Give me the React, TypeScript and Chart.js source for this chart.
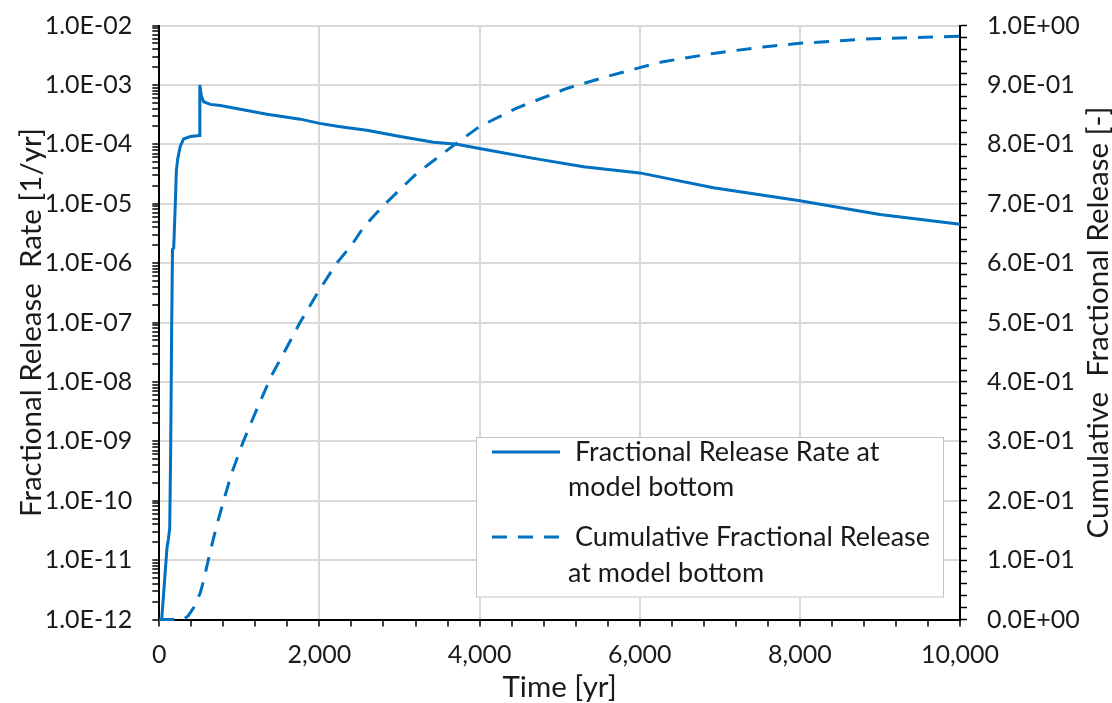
import React, { useEffect, useRef } from 'react';
import { Chart, registerables } from 'chart.js';

Chart.register(...registerables);

// ---------- data ----------
const rateYears = [0, 30, 96, 112, 130, 142, 155, 165, 180, 200, 213, 229, 262, 304, 387, 504, 506, 512, 525, 554, 637, 762, 1012, 1346, 1762, 2000, 2262, 2592, 3009, 3425, 3717, 4000, 4675, 5300, 6000, 6920, 8000, 9000, 10000];
const rateValues = [1e-12, 1e-12, 1.6e-11, 2.2e-11, 3.4e-11, 7e-10, 1e-7, 1.7e-6, 1.8e-6, 1e-5, 3.6e-5, 5.6e-5, 9.3e-5, 1.23e-4, 1.35e-4, 1.41e-4, 1.0e-3, 8.5e-4, 6.5e-4, 5.2e-4, 4.7e-4, 4.5e-4, 3.9e-4, 3.2e-4, 2.65e-4, 2.25e-4, 1.98e-4, 1.72e-4, 1.35e-4, 1.08e-4, 1.0e-4, 8.5e-5, 5.8e-5, 4.2e-5, 3.3e-5, 1.86e-5, 1.12e-5, 6.6e-6, 4.5e-6];

const cumYears = [0, 300, 360, 430, 512, 554, 637, 720, 804, 900, 1050, 1221, 1400, 1600, 1757, 2000, 2216, 2400, 2549, 2800, 3215, 3714, 4000, 4464, 5089, 5589, 6000, 6290, 6920, 7540, 8000, 8790, 10000];
const cumValues = [0, 0, 0.006, 0.02, 0.045, 0.066, 0.115, 0.16, 0.2, 0.245, 0.3, 0.355, 0.41, 0.46, 0.5, 0.555, 0.6, 0.63, 0.66, 0.697, 0.751, 0.802, 0.83, 0.861, 0.894, 0.914, 0.929, 0.939, 0.953, 0.964, 0.97, 0.977, 0.982];

const xMin = 0;
const xMax = 10000;
const xMinorStep = 400;
const xMajorStep = 2000;
const logMinExp = -12;
const logMaxExp = -2;
const rightMinorStep = 0.02;
const rightMajorStep = 0.1;

const seriesLabels = [
  [' Fractional Release Rate at', 'model bottom'],
  [' Cumulative Fractional Release', 'at model bottom'],
];
const xTitle = 'Time [yr]';
const leftTitle = 'Fractional Release  Rate [1/yr]';
const rightTitle = 'Cumulative  Fractional Release [-]';

// ---------- style ----------
const W = 1112;
const H = 703;
const BLUE = '#0070C0';
const GRID = '#d9d9d9';
const TEXT = '#1a1a1a';
const FONT = 'Lato';
const TICK_SIZE = 25;
const TITLE_SIZE = 29.5;
const LEGEND_SIZE = 27;

function fmtExp(v: number): string {
  const s = v.toExponential(1);
  const [m, e] = s.split('e');
  const n = parseInt(e, 10);
  const sign = n < 0 ? '-' : '+';
  return `${m}E${sign}${String(Math.abs(n)).padStart(2, '0')}`;
}

function isDecade(v: number): boolean {
  if (v <= 0) return false;
  const l = Math.log10(v);
  return Math.abs(l - Math.round(l)) < 1e-9;
}

const legendPlugin = {
  id: 'customLegendAndTitle',
  afterDraw(chart: any) {
    const ctx = chart.ctx as CanvasRenderingContext2D;
    const area = chart.chartArea;
    ctx.save();
    // right axis title (reads bottom-to-top)
    ctx.fillStyle = TEXT;
    ctx.font = `${TITLE_SIZE}px ${FONT}`;
    ctx.textAlign = 'center';
    ctx.textBaseline = 'middle';
    ctx.translate(1098, (area.top + area.bottom) / 2);
    ctx.rotate(-Math.PI / 2);
    ctx.fillText(rightTitle, 0, 0);
    ctx.restore();

    // legend box
    ctx.save();
    const bx = 476.5, by = 437.5, bw = 467, bh = 159.5;
    ctx.fillStyle = '#ffffff';
    ctx.fillRect(bx, by, bw, bh);
    ctx.strokeStyle = '#c4c4c4';
    ctx.lineWidth = 1;
    ctx.strokeRect(bx, by, bw, bh);
    const rowY = [[452, 487], [537, 573]];
    chart.data.datasets.forEach((ds: any, i: number) => {
      ctx.save();
      ctx.strokeStyle = ds.borderColor;
      ctx.lineWidth = ds.borderWidth;
      ctx.setLineDash(ds.borderDash || []);
      ctx.beginPath();
      ctx.moveTo(492, rowY[i][0]);
      ctx.lineTo(560, rowY[i][0]);
      ctx.stroke();
      ctx.restore();
      ctx.fillStyle = TEXT;
      ctx.font = `${LEGEND_SIZE}px ${FONT}`;
      ctx.textAlign = 'left';
      ctx.textBaseline = 'middle';
      seriesLabels[i].forEach((line, j) => {
        ctx.fillText(line, 568, rowY[i][j]);
      });
    });
    ctx.restore();
  },
};

export default function App() {
  const ref = useRef<HTMLCanvasElement>(null);

  useEffect(() => {
    if (!ref.current) return;
    const rateData = rateYears.map((x, i) => ({ x, y: rateValues[i] }));
    const cumData = cumYears.map((x, i) => ({ x, y: cumValues[i] }));

    const chart = new Chart(ref.current, {
      type: 'line',
      data: {
        datasets: [
          {
            label: seriesLabels[0].join(' '),
            data: rateData,
            yAxisID: 'y',
            borderColor: BLUE,
            borderWidth: 3,
            pointRadius: 0,
            tension: 0,
            fill: false,
            clip: false as any,
          },
          {
            label: seriesLabels[1].join(' '),
            data: cumData,
            yAxisID: 'y1',
            borderColor: BLUE,
            borderWidth: 3,
            borderDash: [15, 11],
            pointRadius: 0,
            tension: 0,
            fill: false,
            clip: false as any,
          },
        ],
      },
      options: {
        responsive: false,
        animation: false,
        layout: { padding: { top: 25.5, left: 0, right: 0, bottom: 0 } },
        plugins: {
          legend: { display: false },
          tooltip: { enabled: false },
        },
        scales: {
          x: {
            type: 'linear',
            min: xMin,
            max: xMax,
            afterBuildTicks: (scale: any) => {
              const t = [];
              for (let v = xMin; v <= xMax; v += xMinorStep) t.push({ value: v });
              scale.ticks = t;
            },
            afterFit: (scale: any) => {
              scale.height = 83.5;
              scale.paddingLeft = 0;
              scale.paddingRight = 0;
            },
            ticks: {
              autoSkip: false,
              maxRotation: 0,
              padding: 13,
              color: TEXT,
              font: { family: FONT, size: TICK_SIZE },
              callback: (v: any) => (Number(v) % xMajorStep === 0 ? Number(v).toLocaleString('en-US') : ''),
            },
            grid: {
              color: (c: any) => (c.tick && c.tick.value % xMajorStep === 0 ? GRID : 'rgba(0,0,0,0)'),
              lineWidth: 2,
              tickColor: '#000',
              tickLength: 7,
              tickWidth: 1.5,
            },
            border: { color: '#000', width: 2 },
            title: {
              display: true,
              text: xTitle,
              color: TEXT,
              font: { family: FONT, size: TITLE_SIZE, lineHeight: 1 },
              padding: { top: 0, bottom: 0.5 },
            },
          },
          y: {
            type: 'logarithmic',
            position: 'left',
            min: Math.pow(10, logMinExp),
            max: Math.pow(10, logMaxExp),
            afterBuildTicks: (scale: any) => {
              const t = [];
              for (let n = logMinExp; n <= logMaxExp; n++) {
                for (let k = 1; k <= 9; k++) {
                  if (n === logMaxExp && k > 1) break;
                  t.push({ value: k * Math.pow(10, n) });
                }
              }
              scale.ticks = t;
            },
            afterFit: (scale: any) => {
              scale.width = 159.3;
              scale.paddingTop = 0;
              scale.paddingBottom = 0;
            },
            ticks: {
              autoSkip: false,
              padding: 20,
              color: TEXT,
              font: { family: FONT, size: TICK_SIZE },
              callback: (v: any) => (isDecade(Number(v)) ? fmtExp(Number(v)) : ''),
            },
            grid: {
              color: (c: any) => (c.tick && isDecade(c.tick.value) ? GRID : 'rgba(0,0,0,0)'),
              lineWidth: 2,
              tickColor: '#000',
              tickLength: 7,
              tickWidth: 1.5,
            },
            border: { color: '#000', width: 2 },
            title: {
              display: true,
              text: leftTitle,
              color: TEXT,
              font: { family: FONT, size: TITLE_SIZE, lineHeight: 1 },
              padding: { top: 17.2, bottom: 0 },
            },
          },
          y1: {
            type: 'linear',
            position: 'right',
            min: 0,
            max: 1,
            afterBuildTicks: (scale: any) => {
              const t = [];
              const n = Math.round(1 / rightMinorStep);
              for (let i = 0; i <= n; i++) t.push({ value: i / n });
              scale.ticks = t;
            },
            afterFit: (scale: any) => {
              scale.width = W - 960;
              scale.paddingTop = 0;
              scale.paddingBottom = 0;
            },
            ticks: {
              autoSkip: false,
              padding: 20,
              color: TEXT,
              font: { family: FONT, size: TICK_SIZE },
              callback: (v: any) => {
                const q = Number(v) / rightMajorStep;
                return Math.abs(q - Math.round(q)) < 1e-6 ? fmtExp(Number(v)) : '';
              },
            },
            grid: {
              drawOnChartArea: false,
              tickColor: '#000',
              tickLength: 7,
              tickWidth: 1.5,
            },
            border: { color: '#000', width: 2 },
            title: { display: false },
          },
        },
      },
      plugins: [legendPlugin],
    } as any);

    return () => chart.destroy();
  }, []);

  return (
    <div style={{ position: 'absolute', left: 0, top: 0, width: W, height: H, background: '#fff' }}>
      <canvas ref={ref} width={W} height={H} style={{ display: 'block' }} />
    </div>
  );
}
